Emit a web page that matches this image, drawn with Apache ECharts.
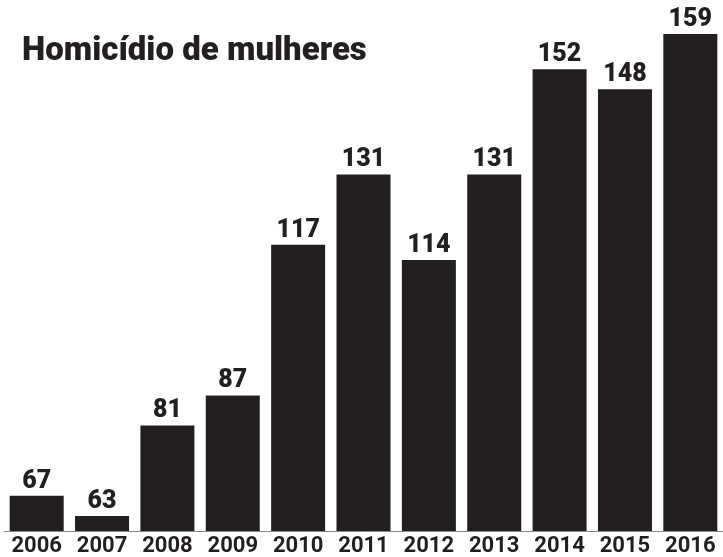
<!DOCTYPE html>
<html>
<head>
<meta charset="utf-8">
<script src="https://cdn.jsdelivr.net/npm/echarts@6/dist/echarts.min.js"></script>
<style>
    html, body {margin: 0; padding: 0; background: #fff;}
    #chart {width: 723px; height: 557px;}
</style>
</head>
<body>
<div id="chart"></div>
<script>
// dados do gráfico
var anos = ['2006', '2007', '2008', '2009', '2010', '2011', '2012', '2013', '2014', '2015', '2016'];
var homicidios = [67, 63, 81, 87, 117, 131, 114, 131, 152, 148, 159];

var corTexto = '#231f20';
var fonte = 'Roboto';

var myChart = echarts.init(document.getElementById('chart'));
var option = {
    animation: false,
    title: {
        text: 'Homicídio de mulheres',
        left: 17,
        top: 30,
        textStyle: {
            fontFamily: fonte,
            fontWeight: 900,
            fontSize: 33,
            color: corTexto
        }
    },
    grid: {
        left: 4,
        width: 729,
        top: 34,
        bottom: 24
    },
    xAxis: {
        type: 'category',
        data: anos,
        axisTick: {show: false},
        axisLine: {lineStyle: {color: '#8a8a8a', width: 1}},
        axisLabel: {
            interval: 0,
            margin: 4,
            fontFamily: fonte,
            fontWeight: 'bold',
            fontSize: 22,
            color: corTexto
        }
    },
    yAxis: {
        type: 'value',
        min: 60,
        max: 159,
        show: false
    },
    series: [{
        type: 'bar',
        data: homicidios,
        barWidth: 54,
        itemStyle: {color: corTexto},
        label: {
            show: true,
            position: 'top',
            distance: 2,
            fontFamily: fonte,
            fontWeight: 900,
            fontSize: 25,
            color: corTexto
        }
    }]
};
myChart.setOption(option);
</script>
</body>
</html>
